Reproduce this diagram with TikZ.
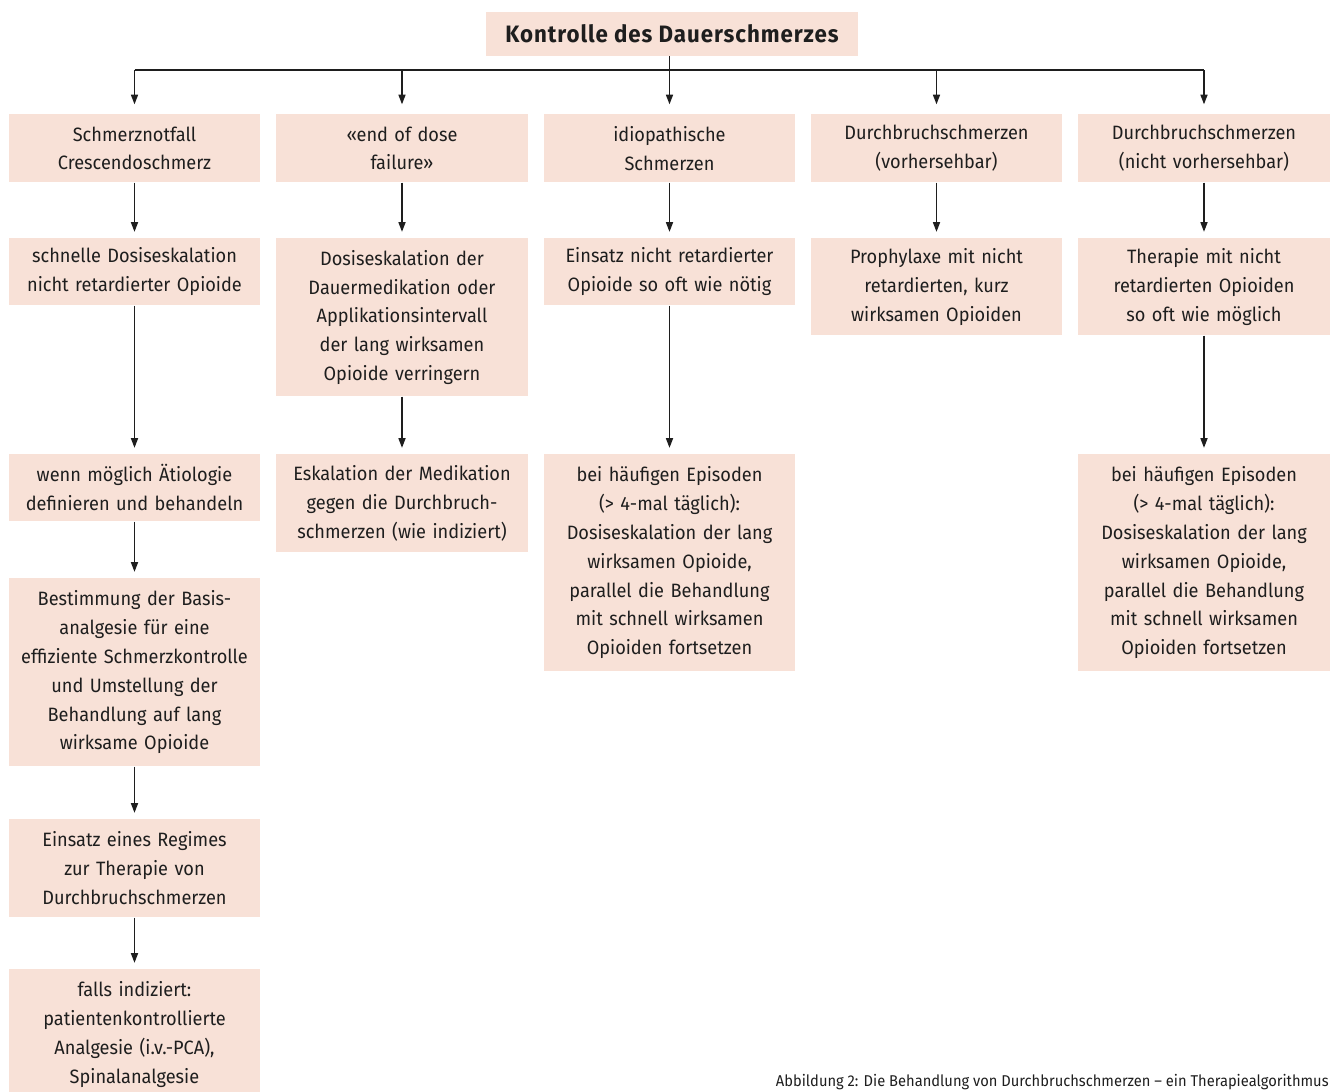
\documentclass[tikz,border=0pt]{standalone}
\usepackage{fontspec}
\setmainfont{Fira Sans}[FakeStretch=0.94]
\usepackage{xcolor}
\usetikzlibrary{arrows.meta}

\definecolor{boxfill}{HTML}{F8E1D7}
\definecolor{linecol}{HTML}{1E1E1E}

\begin{document}
\begin{tikzpicture}[x=0.02cm,y=-0.02cm,
	box/.style={fill=boxfill,text=linecol,anchor=north,align=center,
		text width=140pt,inner xsep=1.7pt,inner ysep=0pt,
		font=\fontsize{11}{16.4}\selectfont},
	boxh/.style={minimum height=#1*0.02cm},
	arr/.style={draw=linecol,line width=0.8pt,
		-{Triangle[length=5.5pt,width=4pt]},shorten >=3.5pt}]
	\useasboundingbox (0,0) rectangle (1330,1092);

	% title
	\node[fill=boxfill,text=linecol,minimum width=372*0.02cm,minimum height=44*0.02cm,
		font=\fontsize{13.5}{15}\selectfont\bfseries\addfontfeature{LetterSpace=4}] (T) at (672,34)
		{Kontrolle des Dauerschmerzes};
	\coordinate (bar) at (669.5,70);

	% first row
	\node[box,boxh=68] (notfall) at (134.5,114) {Schmerznotfall\\Crescendoschmerz};
	\node[box,boxh=68] (eod) at (402,114) {«end of dose\\failure»};
	\node[box,boxh=68] (idio) at (669.5,114) {idiopathische\\Schmerzen};
	\node[box,boxh=68] (vorh) at (936.5,114) {Durchbruchschmerzen\\(vorhersehbar)};
	\node[box,boxh=68] (nvorh) at (1204,114) {Durchbruchschmerzen\\(nicht vorhersehbar)};

	% second row
	\node[box,boxh=67] (eskal) at (134.5,238) {schnelle Dosiseskalation\\nicht retardierter Opioide};
	\node[box,boxh=158] (dauer) at (402,238) {Dosiseskalation der\\Dauermedikation oder\\Applikationsintervall\\der lang wirksamen\\Opioide verringern};
	\node[box,boxh=67] (einsatz) at (669.5,238) {Einsatz nicht retardierter\\Opioide so oft wie nötig};
	\node[box,boxh=97] (prophy) at (936.5,238) {Prophylaxe mit nicht\\retardierten, kurz\\wirksamen Opioiden};
	\node[box,boxh=97] (therapie) at (1204,238) {Therapie mit nicht\\retardierten Opioiden\\so oft wie möglich};

	% third row
	\node[box,boxh=67] (aetio) at (134.5,454) {wenn möglich Ätiologie\\definieren und behandeln};
	\node[box,boxh=98] (medik) at (402,454) {Eskalation der Medikation\\gegen die Durchbruch-\\schmerzen (wie indiziert)};
	\node[box,boxh=217] (episA) at (669.5,454) {bei häufigen Episoden\\(> 4-mal täglich):\\Dosiseskalation der lang\\wirksamen Opioide,\\parallel die Behandlung\\mit schnell wirksamen\\Opioiden fortsetzen};
	\node[box,boxh=217] (episB) at (1204,454) {bei häufigen Episoden\\(> 4-mal täglich):\\Dosiseskalation der lang\\wirksamen Opioide,\\parallel die Behandlung\\mit schnell wirksamen\\Opioiden fortsetzen};

	% first column, further down
	\node[box,boxh=188] (basis) at (134.5,578) {Bestimmung der Basis-\\analgesie für eine\\effiziente Schmerzkontrolle\\und Umstellung der\\Behandlung auf lang\\wirksame Opioide};
	\node[box,boxh=98] (regime) at (134.5,819) {Einsatz eines Regimes\\zur Therapie von\\Durchbruchschmerzen};
	\node[box,boxh=130] (pca) at (134.5,969) {falls indiziert:\\patientenkontrollierte\\Analgesie (i.v.-PCA),\\Spinalanalgesie};

	% connectors
	\draw[linecol,line width=0.8pt] (T.south -| bar) -- (bar);
	\draw[linecol,line width=0.8pt] (notfall.north |- bar) -- (nvorh.north |- bar);
	\foreach \n in {notfall,eod,idio,vorh,nvorh}
		\draw[arr,shorten >=5.5pt] (\n.north |- bar) -- (\n.north);
	\foreach \a/\b in {notfall/eskal,eskal/aetio,aetio/basis,basis/regime,regime/pca,
		eod/dauer,dauer/medik,idio/einsatz,einsatz/episA,vorh/prophy,nvorh/therapie,therapie/episB}
		\draw[arr] (\a.south) -- (\b.north);

	\node[anchor=base east,inner sep=0pt,text=linecol,font=\fontsize{8.9}{10}\selectfont] (caption) at (1329,1086)
		{Abbildung 2: Die Behandlung von Durchbruchschmerzen – ein Therapiealgorithmus};
\end{tikzpicture}
\end{document}
